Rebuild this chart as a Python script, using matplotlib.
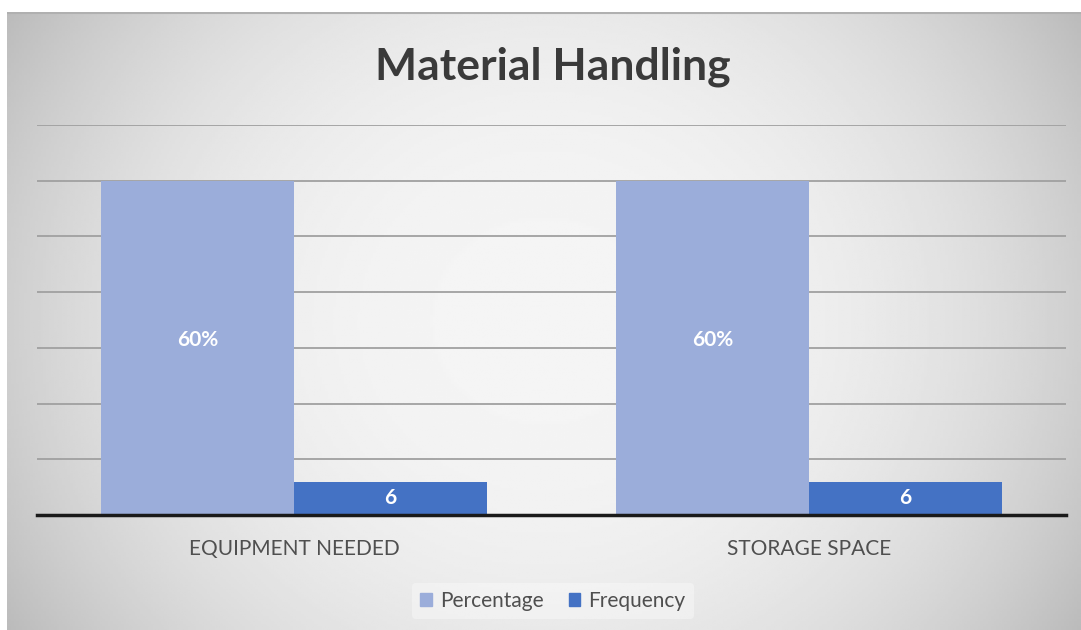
import numpy as np
import matplotlib
matplotlib.use('Agg')
import matplotlib.pyplot as plt
from matplotlib.patches import Patch

# Данные
categories = ['EQUIPMENT NEEDED', 'STORAGE SPACE']
percentage = [60, 60]
frequency = [6, 6]
percentage_labels = ['60%', '60%']
frequency_labels = ['6', '6']

plt.rcParams['font.family'] = ['Lato', 'DejaVu Sans']

fig = plt.figure(figsize=(10.81, 6.30), dpi=100)
fig.patch.set_facecolor('white')

# Серый градиентный фон
bg = fig.add_axes([7 / 1081, 0, 1 - 7 / 1081, 618 / 630])
gx = np.linspace(-1, 1, 400)
gy = np.linspace(-1, 1, 250)
X, Y = np.meshgrid(gx, gy)
r = np.sqrt((X / 1.0) ** 2 + (Y / 1.6) ** 2)
shade = 0.96 - 0.15 * np.clip(r, 0, 1.2) ** 2.5
bg.imshow(shade, cmap='gray', vmin=0, vmax=1, aspect='auto', extent=[0, 1, 0, 1])
bg.set_xlim(0, 1)
bg.set_ylim(0, 1)
bg.axis('off')
bg.plot([0, 1], [0.999, 0.999], color='#b0b0b0', lw=1.5)

ax = fig.add_axes([37 / 1081, 115 / 630, 1029 / 1081, 390 / 630])
ax.patch.set_alpha(0)

x = np.arange(len(categories))
w = 0.375
bars1 = ax.bar(x - w / 2, percentage, w, color='#9badda', zorder=3, label='Percentage')
bars2 = ax.bar(x + w / 2, frequency, w, color='#4472c4', zorder=3, label='Frequency')

for b, t in zip(bars1, percentage_labels):
    ax.text(b.get_x() + b.get_width() / 2, b.get_height() / 2 + 1.5, t,
            ha='center', va='center', color='white', fontsize=15, fontweight='bold', zorder=4)
for b, t in zip(bars2, frequency_labels):
    ax.text(b.get_x() + b.get_width() / 2, b.get_height() / 2, t,
            ha='center', va='center', color='white', fontsize=15, fontweight='bold', zorder=4)

ax.set_xlim(-0.5, 1.5)
ax.set_ylim(0, 70)
ax.set_yticks(np.arange(10, 71, 10))
ax.yaxis.grid(True, color='#a0a0a0', lw=1.3, zorder=0)
ax.tick_params(axis='y', length=0, labelleft=False)
ax.tick_params(axis='x', length=0, pad=17)
ax.set_xticks(x)
ax.set_xticklabels(categories, fontsize=15, color='#4f4f4f')
for s in ['top', 'right', 'left']:
    ax.spines[s].set_visible(False)
ax.spines['bottom'].set_color('#1a1a1a')
ax.spines['bottom'].set_linewidth(2.5)
ax.spines['bottom'].set_zorder(5)

fig.text(553 / 1081, 1 - 67 / 630, 'Material Handling', ha='center', va='center',
         fontsize=32, fontweight='bold', color='#3a3a3a')

handles = [Patch(color='#9badda', label='Percentage'), Patch(color='#4472c4', label='Frequency')]
leg = fig.legend(handles=handles, loc='center', bbox_to_anchor=(553 / 1081, 29 / 630),
                 ncol=2, frameon=True, fontsize=15, handlelength=0.55, handleheight=0.55,
                 handletextpad=0.4, columnspacing=1.2, labelcolor='#4f4f4f')
leg.get_frame().set_facecolor('white')
leg.get_frame().set_alpha(0.35)
leg.get_frame().set_edgecolor('none')

fig.savefig('out.png', dpi=100)
